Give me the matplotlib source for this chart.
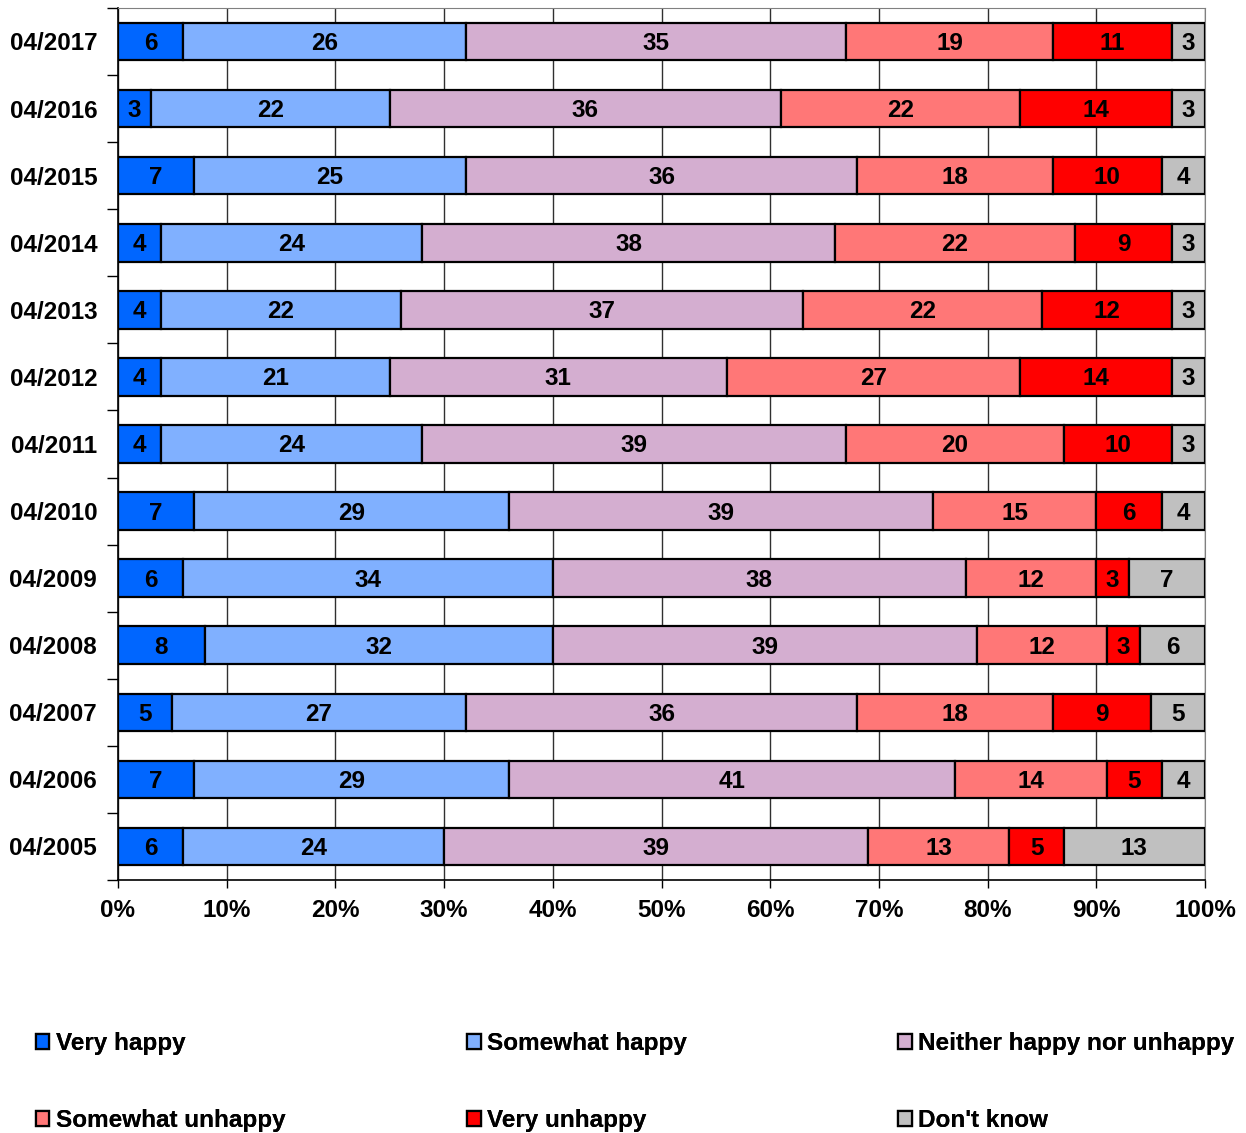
"""Stacked horizontal bars of happiness survey answers by wave."""

import matplotlib.pyplot as plt
import numpy as np

plt.rcParams["font.family"] = ["Liberation Sans", "DejaVu Sans"]
plt.rcParams["font.weight"] = "bold"

WAVES = ["04/2017", "04/2016", "04/2015", "04/2014", "04/2013", "04/2012",
         "04/2011", "04/2010", "04/2009", "04/2008", "04/2007", "04/2006",
         "04/2005"]

VERY_HAPPY = [6, 3, 7, 4, 4, 4, 4, 7, 6, 8, 5, 7, 6]
SOMEWHAT_HAPPY = [26, 22, 25, 24, 22, 21, 24, 29, 34, 32, 27, 29, 24]
NEITHER = [35, 36, 36, 38, 37, 31, 39, 39, 38, 39, 36, 41, 39]
SOMEWHAT_UNHAPPY = [19, 22, 18, 22, 22, 27, 20, 15, 12, 12, 18, 14, 13]
VERY_UNHAPPY = [11, 14, 10, 9, 12, 14, 10, 6, 3, 3, 9, 5, 5]
DONT_KNOW = [3, 3, 4, 3, 3, 3, 3, 4, 7, 6, 5, 4, 13]

SERIES = [
    ("Very happy", VERY_HAPPY, "#0066ff"),
    ("Somewhat happy", SOMEWHAT_HAPPY, "#80b0ff"),
    ("Neither happy nor unhappy", NEITHER, "#d4aed0"),
    ("Somewhat unhappy", SOMEWHAT_UNHAPPY, "#ff7777"),
    ("Very unhappy", VERY_UNHAPPY, "#ff0000"),
    ("Don't know", DONT_KNOW, "#c0c0c0"),
]

FS = 17.5


def main() -> None:
    fig = plt.figure(figsize=(12.46, 11.33), dpi=100)
    ax = fig.add_axes([0.0947, 0.2233, 0.8724, 0.7697])

    y = np.arange(len(WAVES))
    left = np.zeros(len(WAVES))
    handles = []
    for name, values, color in SERIES:
        values = np.array(values, dtype=float)
        bars = ax.barh(y, values, left=left, height=0.56, color=color,
                       edgecolor="black", linewidth=1.6, label=name, zorder=3)
        handles.append(bars)
        for yi, x0, v in zip(y, left, values):
            ax.text(x0 + v / 2, yi + 0.03, f"{v:g}", ha="center",
                    va="center", fontsize=FS, fontweight="bold", zorder=4)
        left += values

    ax.set_xlim(0, 100)
    ax.set_ylim(len(WAVES) - 0.5, -0.5)
    ax.set_xticks(np.arange(0, 101, 10))
    ax.set_xticklabels([f"{t}%" for t in range(0, 101, 10)])
    ax.set_yticks(y)
    ax.set_yticklabels(WAVES)
    ax.set_yticks(np.arange(-0.5, len(WAVES)), minor=True)
    ax.tick_params(axis="y", which="major", length=0, pad=15, labelsize=FS)
    ax.tick_params(axis="y", which="minor", length=8, width=1)
    ax.tick_params(axis="x", length=6, width=1, labelsize=FS, pad=8)
    ax.grid(axis="x", color="#303030", linewidth=1, zorder=0)

    for side in ("top", "right"):
        ax.spines[side].set_color("#808080")
    for side in ("left", "bottom"):
        ax.spines[side].set_color("black")
        ax.spines[side].set_linewidth(1.2)

    # One legend per column, two entries each
    for col, x_anchor in enumerate([0.028, 0.374, 0.720]):
        idx = [col, col + 3]
        leg = fig.legend([handles[i] for i in idx],
                         [SERIES[i][0] for i in idx],
                         loc="lower left", bbox_to_anchor=(x_anchor, 0.0),
                         frameon=False, fontsize=FS, handlelength=0.55,
                         handleheight=0.55, handletextpad=0.25,
                         labelspacing=2.2, borderaxespad=0.0,
                         borderpad=0.05)
        fig.add_artist(leg)

    fig.savefig("out.png", dpi=100)


if __name__ == "__main__":
    main()
